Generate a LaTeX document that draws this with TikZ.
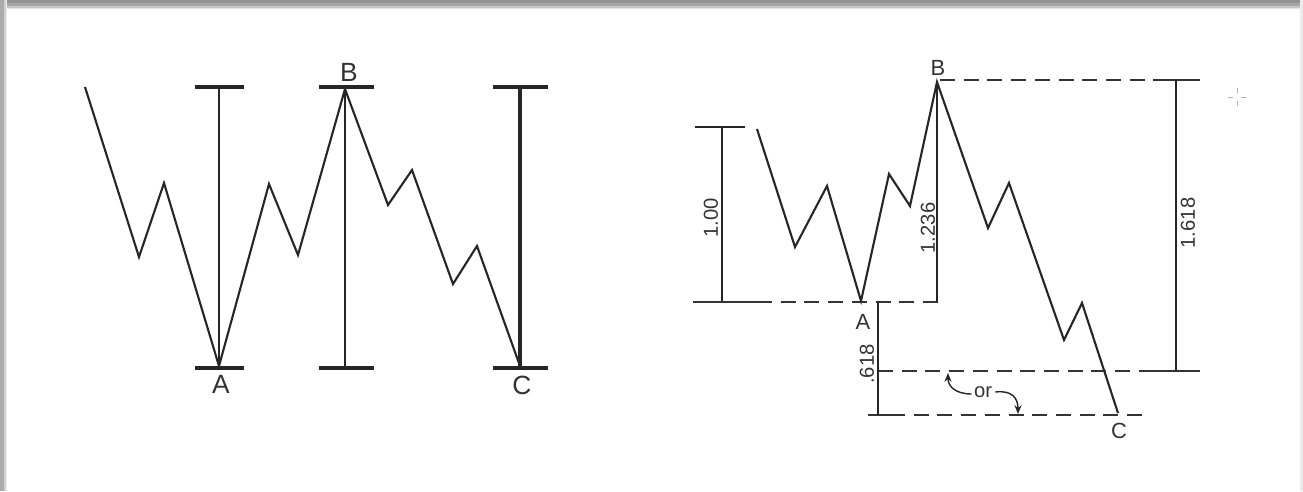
\documentclass[tikz,border=0pt]{standalone}
\usepackage{fontspec}
\setmainfont{Liberation Sans}
\usetikzlibrary{arrows.meta}
\begin{document}
\begin{tikzpicture}[x=0.02cm,y=-0.02cm,
 wave/.style={line width=1.2pt, line join=miter, draw=black!85},
 tickbar/.style={line width=1.9pt, draw=black!85},
 dimline/.style={line width=1pt, draw=black!85},
 dashline/.style={line width=1.3pt, draw=black!80, dash pattern=on 8.5pt off 5pt},
 solidend/.style={line width=1.3pt, draw=black!80},
 biglbl/.style={font=\fontsize{15}{15}\selectfont, inner sep=0pt, text=black!80},
 smlbl/.style={font=\fontsize{11.5}{11.5}\selectfont, inner sep=0pt, text=black!80},
 rlbl/.style={font=\fontsize{12.5}{12.5}\selectfont, inner sep=0pt, text=black!80},
 orarrow/.style={line width=0.8pt, draw=black!85, -{Stealth[length=5pt,width=4pt]}},
]
\useasboundingbox (0,0) rectangle (1303,491);
\fill[white] (0,0) rectangle (1303,491);
% frame shadow
\fill[gray!85] (0,0) rectangle (1303,3);
\fill[gray!70] (0,3) rectangle (1303,6);
\fill[gray!45] (0,6) rectangle (1303,8);
\fill[gray!20] (0,8) rectangle (1303,9);
\fill[gray!65] (0,0) rectangle (4,491);
\fill[gray!35] (4,0) rectangle (6,491);
\fill[gray!15] (6,0) rectangle (7,491);
\fill[gray!15] (1300,0) rectangle (1303,491);

% ---------------- left diagram ----------------
\coordinate (l0) at (85,87);
\coordinate (l1) at (139,257);
\coordinate (l2) at (164,183);
\coordinate (lA) at (219,366);
\coordinate (l4) at (269,184);
\coordinate (l5) at (298,255);
\coordinate (lB) at (345,89);
\coordinate (l7) at (388,205);
\coordinate (l8) at (412,170);
\coordinate (l9) at (453,284);
\coordinate (l10) at (477,246);
\coordinate (lC) at (520,366);
\draw[wave] (l0) -- (l1) -- (l2) -- (lA) -- (l4) -- (l5) -- (lB) -- (l7) -- (l8) -- (l9) -- (l10) -- (lC);

% bar 1
\coordinate (p1tl) at (195,87); \coordinate (p1tr) at (244,87);
\coordinate (p1bl) at (195,368); \coordinate (p1br) at (244,368);
\coordinate (p1t) at (219,87); \coordinate (p1b) at (219,368);
\draw[tickbar] (p1tl) -- (p1tr);
\draw[tickbar] (p1bl) -- (p1br);
\draw[line width=0.6pt, draw=black!85] (p1t) -- (p1b);
% bar 2
\coordinate (p2tl) at (319,87); \coordinate (p2tr) at (374,87);
\coordinate (p2bl) at (319,368); \coordinate (p2br) at (374,368);
\coordinate (p2t) at (345,87); \coordinate (p2b) at (345,368);
\draw[tickbar] (p2tl) -- (p2tr);
\draw[tickbar] (p2bl) -- (p2br);
\draw[line width=1.1pt, draw=black!85] (p2t) -- (p2b);
% bar 3
\coordinate (p3tl) at (493,87); \coordinate (p3tr) at (548,87);
\coordinate (p3bl) at (493,368); \coordinate (p3br) at (548,368);
\coordinate (p3t) at (520,87); \coordinate (p3b) at (520,368);
\draw[tickbar] (p3tl) -- (p3tr);
\draw[tickbar] (p3bl) -- (p3br);
\draw[line width=1.8pt, draw=black!85] (p3t) -- (p3b);

\node[biglbl] (labLB) at (349,72) {B};
\node[biglbl] (labLA) at (221,384) {A};
\node[biglbl] (labLC) at (522,385) {C};

% ---------------- right diagram ----------------
\coordinate (r0) at (757,129);
\coordinate (r1) at (795,247);
\coordinate (r2) at (827,186);
\coordinate (rA) at (861,301);
\coordinate (r4) at (889,174);
\coordinate (r5) at (910,206);
\coordinate (rB) at (937,82);
\coordinate (r7) at (988,228);
\coordinate (r8) at (1009,183);
\coordinate (r9) at (1064,340);
\coordinate (r10) at (1082,303);
\coordinate (rC) at (1118,413);
\draw[wave] (r0) -- (r1) -- (r2) -- (rA) -- (r4) -- (r5) -- (rB) -- (r7) -- (r8) -- (r9) -- (r10) -- (rC);

% 1.00 bar
\coordinate (q1tl) at (695,127); \coordinate (q1tr) at (745,127);
\coordinate (q1t) at (722,127); \coordinate (q1b) at (722,302);
\draw[line width=1.4pt, draw=black!85] (q1tl) -- (q1tr);
\draw[dimline] (q1t) -- (q1b);
\coordinate (baseL) at (693,302); \coordinate (baseM) at (757,302); \coordinate (baseR) at (945,302);
\draw[solidend] (baseL) -- (baseM);
\draw[dashline] (baseM) -- (baseR);
% 1.236
\coordinate (q2b) at (937,302);
\draw[dimline] (rB) -- (q2b);
% top dashed line
\coordinate (topL) at (940,80); \coordinate (topM) at (1155,80); \coordinate (topR) at (1200,80);
\draw[dashline] (topL) -- (topM);
\draw[solidend] (topM) -- (topR);
% 1.618
\coordinate (q3t) at (1176,80); \coordinate (q3b) at (1176,371);
\draw[dimline] (q3t) -- (q3b);
% 0.618 line
\coordinate (midL) at (878,371); \coordinate (midM) at (1152,371); \coordinate (midR) at (1200,371);
\draw[dashline] (midL) -- (midM);
\draw[solidend] (midM) -- (midR);
% lower line
\coordinate (lowL) at (868,415); \coordinate (lowM) at (890,415); \coordinate (lowR) at (1145,415);
\draw[solidend] (lowL) -- (lowM);
\draw[dashline] (lowM) -- (lowR);
% .618 vertical
\coordinate (q4t) at (878,303); \coordinate (q4b) at (878,415);
\draw[dimline] (q4t) -- (q4b);

\node[smlbl, rotate=90] (d100) at (711,218) {1.00};
\node[smlbl, rotate=90] (d1236) at (928,228) {1.236};
\node[smlbl, rotate=90] (d1618) at (1188,223) {1.618};
\node[smlbl, rotate=90] (d0618) at (867,364) {.618};

\node[rlbl] (labRA) at (863,322) {A};
\node[rlbl] (labRB) at (938,68) {B};
\node[rlbl] (labRC) at (1119,431) {C};
\node[smlbl] (labor) at (983,392) {or};

\coordinate (arrL) at (948,373);
\coordinate (arrR) at (1018,414);
\draw[orarrow] (labor.west) ++(-2,2) .. controls (955,394) and (948,386) .. (arrL);
\draw[orarrow] (labor.east) ++(3,0) .. controls (1012,390) and (1018,398) .. (arrR);

% small crosshair mark
\coordinate (cx) at (1237,97);
\draw[gray!60, line width=0.5pt] (1228,97) -- (1233,97) (1241,97) -- (1246,97)
  (1237,88) -- (1237,93) (1237,101) -- (1237,106);
\end{tikzpicture}
\end{document}
